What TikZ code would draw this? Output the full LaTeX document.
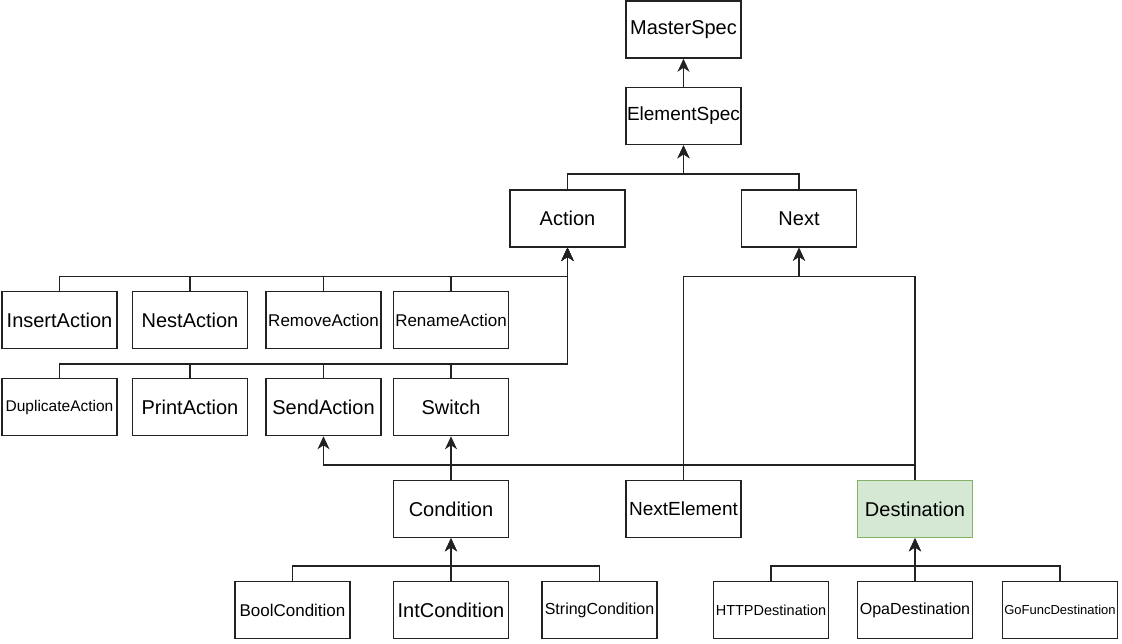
\documentclass[tikz,border=0pt]{standalone}
\usepackage{fontspec}
\setmainfont{Liberation Sans}
\usetikzlibrary{arrows.meta,positioning}

\definecolor{destfill}{HTML}{D5E8D4}
\definecolor{destline}{HTML}{82B366}
\definecolor{edgecol}{HTML}{222222}

\newcommand{\fsz}[1]{\fontsize{#1}{#1}\selectfont}

\tikzset{
  cls/.style={draw=edgecol, line width=1.5pt, fill=white, minimum width=115pt,
    minimum height=57pt, inner sep=0pt, font=\fsz{20}},
  hlcls/.style={cls, draw=destline, fill=destfill},
  inh/.style={-{Stealth[length=13pt,width=12pt,inset=4pt]}, line width=1.5pt, draw=edgecol},
}

\begin{document}
\begin{tikzpicture}[x=1pt, y=-1pt]
\useasboundingbox (0,0) rectangle (1122,644);

% Top
\node[cls] (ms) at (683.5,29.5) {MasterSpec};
\node[cls, font=\fsz{19}] (es) at (683.5,116) {ElementSpec};
\node[cls] (act) at (567.5,218.5) {Action};
\node[cls] (nxt) at (799,218.5) {Next};

% Actions
\node[cls] (ins) at (59.5,320) {InsertAction};
\node[cls] (nest) at (190,320) {NestAction};
\node[cls, font=\fsz{17}] (rem) at (323.5,320) {RemoveAction};
\node[cls, font=\fsz{17}] (ren) at (451,320) {RenameAction};
\node[cls, font=\fsz{15.5}] (dup) at (59.5,407) {DuplicateAction};
\node[cls] (prt) at (190,407) {PrintAction};
\node[cls] (send) at (323.5,407) {SendAction};
\node[cls] (sw) at (451,407) {Switch};

% Conditions / next
\node[cls] (cond) at (451,509) {Condition};
\node[cls, font=\fsz{19}] (ne) at (683.5,509) {NextElement};
\node[hlcls] (dest) at (915,509) {Destination};

\node[cls, font=\fsz{17}] (bool) at (292.5,610) {BoolCondition};
\node[cls] (int) at (451,610) {IntCondition};
\node[cls, font=\fsz{16}] (str) at (599.5,610) {StringCondition};
\node[cls, font=\fsz{14.5}] (http) at (771,610) {HTTPDestination};
\node[cls, font=\fsz{16}] (opa) at (915,610) {OpaDestination};
\node[cls, font=\fsz{13}] (gof) at (1060,610) {GoFuncDestination};

% Spec chain
\draw[inh] (es) -- (ms);
\draw[inh] (act.north) -- ++(0,-15) -| (es.south);
\draw[inh] (nxt.north) -- ++(0,-15) -| (es.south);

% Action subtypes
\foreach \n in {ins,nest,rem,ren,dup,prt,send,sw}
  \draw[inh] (\n.north) -- ++(0,-14) -| (act.south);

% Next subtypes
\draw[inh] (ne.north) -- ++(0,-203) -| (nxt.south);
\draw[inh] (dest.north) -- ++(0,-203) -| (nxt.south);

% Cross links
\draw[inh] (dest.north) -- ++(0,-15) -| (send.south);
\draw[inh] (cond) -- (sw);

% Condition subtypes
\foreach \n in {bool,int,str}
  \draw[inh] (\n.north) -- ++(0,-15) -| (cond.south);

% Destination subtypes
\foreach \n in {http,opa,gof}
  \draw[inh] (\n.north) -- ++(0,-15) -| (dest.south);
\end{tikzpicture}
\end{document}
